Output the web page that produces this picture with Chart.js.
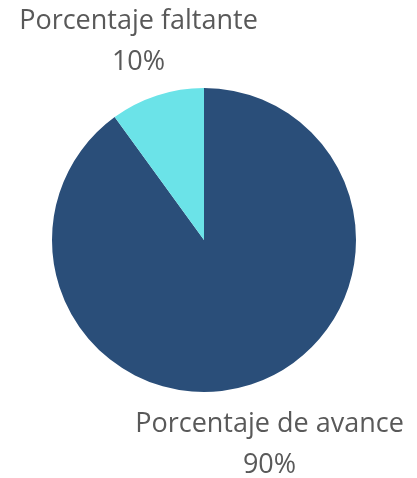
<!DOCTYPE html>
<html>
<head>
<meta charset="utf-8">
<script src="https://cdn.jsdelivr.net/npm/chart.js@4/dist/chart.umd.min.js"></script>
<style>
  html, body { margin: 0; padding: 0; background: #fff; }
  #wrap { width: 417px; height: 478px; }
</style>
</head>
<body>
<div id="wrap"><canvas id="pieChart" width="417" height="478"></canvas></div>
<script>
const categorias = ['Porcentaje de avance', 'Porcentaje faltante'];
const valores = [90, 10];
const colores = ['#2A4E79', '#6BE3E8'];

// etiquetas afuera del pastel, sobre el ángulo medio de cada rebanada
const etiquetasFuera = {
    id: 'etiquetasFuera',
    afterDatasetsDraw(chart) {
        const ctx = chart.ctx;
        const meta = chart.getDatasetMeta(0);
        const total = valores.reduce((a, b) => a + b, 0);
        ctx.save();
        ctx.font = '27px "Open Sans"';
        ctx.fillStyle = '#595959';
        ctx.textAlign = 'center';
        ctx.textBaseline = 'middle';
        meta.data.forEach((arc, i) => {
            const mid = (arc.startAngle + arc.endAngle) / 2;
            const r = arc.outerRadius + 60;
            const x = arc.x + Math.cos(mid) * r;
            const y = arc.y + Math.sin(mid) * r + 3;
            const pct = Math.round(valores[i] / total * 100) + '%';
            ctx.fillText(categorias[i], x, y - 20);
            ctx.fillText(pct, x, y + 21);
        });
        ctx.restore();
    }
};

new Chart(document.getElementById('pieChart').getContext('2d'), {
    type: 'pie',
    data: {
        labels: categorias,
        datasets: [{
            data: valores,
            backgroundColor: colores,
            borderWidth: 0
        }]
    },
    options: {
        responsive: false,
        animation: false,
        layout: { padding: { top: 88, bottom: 86, left: 52, right: 61 } },
        plugins: {
            legend: { display: false },
            tooltip: { enabled: false }
        }
    },
    plugins: [etiquetasFuera]
});
</script>
</body>
</html>
